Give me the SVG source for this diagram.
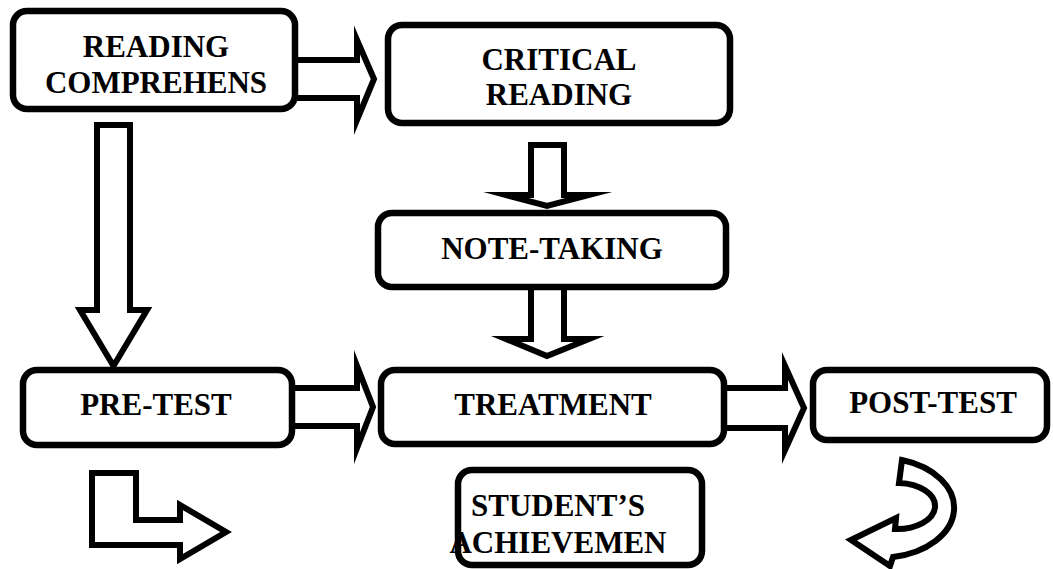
<svg xmlns="http://www.w3.org/2000/svg" width="1053" height="569" viewBox="0 0 1053 569">
<style>
.box{fill:#fff;stroke:#000;stroke-width:6.5}
.arr{fill:#fff;stroke:#000;stroke-width:6;stroke-linejoin:miter;stroke-miterlimit:10}
.t{font-family:"Liberation Serif","Times New Roman",serif;font-weight:bold;font-size:31px;text-anchor:middle;fill:#000}
</style>
<rect width="1053" height="569" fill="#fff"/>
<g id="connectors">
<polygon class="arr" points="290,60 357,60 357,40 374,79 357,120 357,98 290,98"/>
<polygon class="arr" points="531,145 564,145 564,195 589,195 547,206 506,195 531,195"/>
<polygon class="arr" points="531,285 564,285 564,339 589,339 547,356 506,339 531,339"/>
<polygon class="arr" points="97,125 130,125 130,310 147,310 113.5,366 80,310 97,310"/>
<polygon class="arr" points="290,388 357,388 357,366 373,407 357,448 357,426 290,426"/>
<polygon class="arr" points="722,388 785,388 785,366 804,408 785,450 785,428 722,428"/>
<polygon class="arr" points="92,473 136,473 136,520 180,520 180,505 226,532 180,559 180,545 92,545"/>
<path class="arr" d="M902,460 A74,50 0 0 1 893,557 L890,566 L851,540 L896,518 L895,529 A38,23 0 0 0 899,483 Z"/>
</g>
<g id="node-reading">
<rect class="box" x="13" y="11" width="282" height="98" rx="14"/>
<text class="t" x="156" y="57">READING</text>
<text class="t" x="156" y="93">COMPREHENS</text>
</g>
<g id="node-critical">
<rect class="box" x="388" y="25" width="342" height="98" rx="14"/>
<text class="t" x="559" y="70">CRITICAL</text>
<text class="t" x="559" y="105">READING</text>
</g>
<g id="node-note">
<rect class="box" x="378" y="213" width="348" height="74" rx="14"/>
<text class="t" x="552" y="259">NOTE-TAKING</text>
</g>
<g id="node-pretest">
<rect class="box" x="23" y="370" width="269" height="75" rx="14"/>
<text class="t" x="156" y="415">PRE-TEST</text>
</g>
<g id="node-treatment">
<rect class="box" x="381" y="370" width="343" height="74" rx="14"/>
<text class="t" x="553" y="415">TREATMENT</text>
</g>
<g id="node-posttest">
<rect class="box" x="813" y="370" width="234" height="70" rx="14"/>
<text class="t" x="933" y="413">POST-TEST</text>
</g>
<g id="node-student">
<rect class="box" x="458" y="470" width="244" height="95" rx="14"/>
<text class="t" x="558" y="516">STUDENT’S</text>
<text class="t" x="558" y="553">ACHIEVEMEN</text>
</g>
</svg>
